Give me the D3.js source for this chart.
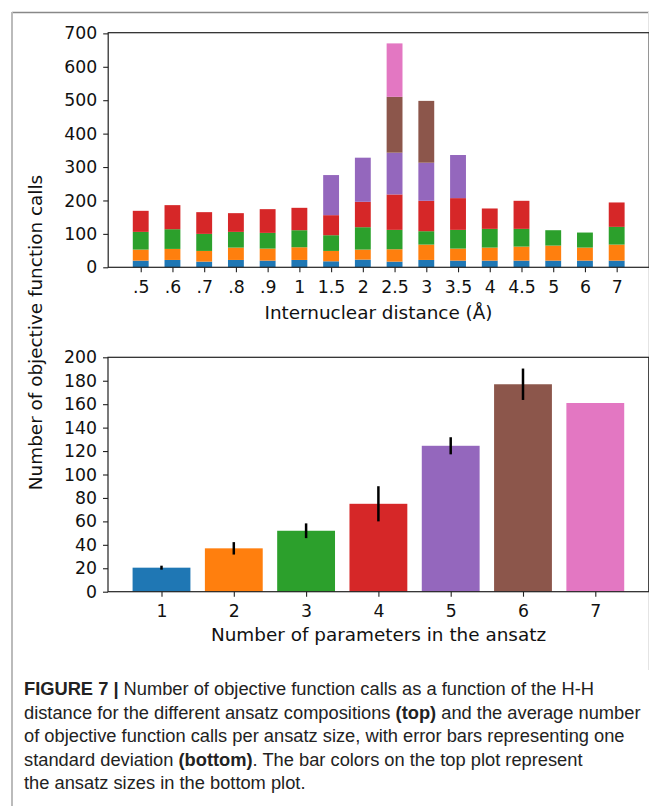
<!DOCTYPE html>
<html>
<head>
<meta charset="utf-8">
<script src="https://cdn.jsdelivr.net/npm/d3@7"></script>
<style>
  body { margin: 0; background: #fff; }
  .axis text { font-family: "DejaVu Sans", sans-serif; font-size: 17.3px; fill: #111; }
  .axis line { stroke: #222; stroke-width: 1.1; }
  .axis path { display: none; }
  .axis-label { font-family: "DejaVu Sans", sans-serif; font-size: 18.4px; fill: #111; }
  .caption { font-family: "Liberation Sans", Arial, sans-serif; font-size: 18.3px; fill: #222; }
</style>
</head>
<body>
<div class="chart-container"></div>
<script>
// top plot: calls per distance, split by ansatz size
const distLabels = ['.5','.6','.7','.8','.9','1','1.5','2','2.5','3','3.5','4','4.5','5','6','7'];
const size1 = [20,22,17,22,20,22,18,23,17,22,20,20,20,20,20,20];
const size2 = [33,33,32,37,36,38,31,30,37,46,36,39,42,45,39,48];
const size3 = [53,59,51,47,47,51,47,67,58,40,56,56,53,46,45,53];
const size4 = [63,72,65,56,71,67,60,76,106,91,95,61,84,0,0,73];
const size5 = [0,0,0,0,0,0,120,132,125,114,129,0,0,0,0,0];
const size6 = [0,0,0,0,0,0,0,0,167,185,0,0,0,0,0,0];
const size7 = [0,0,0,0,0,0,0,0,160,0,0,0,0,0,0,0];
const topTicks = [0,100,200,300,400,500,600,700];

// bottom plot: mean calls per ansatz size, with std dev
const ansatzSizes = [1,2,3,4,5,6,7];
const meanCalls = [20.5,37,52,75,124.5,177,161];
const stdCalls = [1.7,5.3,6.3,15,7.3,13.4,0];
const bottomTicks = [0,20,40,60,80,100,120,140,160,180,200];

const colors = ['#1f77b4','#ff7f0e','#2ca02c','#d62728','#9467bd','#8c564b','#e377c2'];

const captionLines = [
  [{t:'FIGURE 7 |', b:true},{t:' Number of objective function calls as a function of the H-H'}],
  [{t:'distance for the different ansatz compositions '},{t:'(top)', b:true},{t:' and the average number'}],
  [{t:'of objective function calls per ansatz size, with error bars representing one'}],
  [{t:'standard deviation '},{t:'(bottom)', b:true},{t:'. The bar colors on the top plot represent'}],
  [{t:'the ansatz sizes in the bottom plot.'}]
];

const svg_width = 649, svg_height = 806;
const svg = d3.select('.chart-container').append('svg')
  .attr('width', svg_width).attr('height', svg_height);

// figure frame
svg.append('line').attr('x1',12).attr('x2',649).attr('y1',12.5).attr('y2',12.5)
  .attr('stroke','#888').attr('stroke-width',1.5);
svg.append('line').attr('x1',12).attr('x2',12).attr('y1',12).attr('y2',806)
  .attr('stroke','#bbb').attr('stroke-width',2);
svg.append('line').attr('x1',648.5).attr('x2',648.5).attr('y1',12).attr('y2',670)
  .attr('stroke','#e4e4e4').attr('stroke-width',1);

function drawTop(){
  const rows = distLabels.map((d,i)=>({name:d, i:i, s1:size1[i], s2:size2[i], s3:size3[i],
    s4:size4[i], s5:size5[i], s6:size6[i], s7:size7[i]}));
  const keys = ['s1','s2','s3','s4','s5','s6','s7'];
  const stacked = d3.stack().keys(keys)(rows);

  const xScale = d3.scaleLinear().domain([-1.025, distLabels.length - 1 + 1.025]).range([108.2, 649.2]);
  const yScale = d3.scaleLinear().domain([0, 702]).range([267.3, 32.7]);
  const barW = xScale(0.5) - xScale(0);

  const g = svg.append('g');
  g.selectAll('.layer').data(stacked).enter().append('g')
    .attr('fill', (d,k)=>colors[k])
    .selectAll('rect').data(d=>d.filter(s=>s[1]>s[0])).enter().append('rect')
    .attr('x', d=>xScale(d.data.i) - barW/2)
    .attr('width', barW)
    .attr('y', d=>yScale(d[1]))
    .attr('height', d=>yScale(d[0]) - yScale(d[1]));

  const xAxis = d3.axisBottom(xScale).tickValues(d3.range(distLabels.length))
    .tickFormat(i=>distLabels[i]).tickSizeInner(5).tickSizeOuter(0).tickPadding(8);
  g.append('g').attr('class','x axis').attr('transform',`translate(0,${yScale(0)})`).call(xAxis);

  const yAxis = d3.axisLeft(yScale).tickValues(topTicks).tickSizeInner(5).tickSizeOuter(0).tickPadding(6);
  g.append('g').attr('class','y axis').attr('transform',`translate(${xScale.range()[0]},0)`).call(yAxis);

  g.append('rect').attr('x', xScale.range()[0]).attr('y', yScale.range()[1])
    .attr('width', xScale.range()[1]-xScale.range()[0]).attr('height', yScale.range()[0]-yScale.range()[1])
    .attr('fill','none').attr('stroke','#222').attr('stroke-width',1.2);

  g.append('text').attr('class','axis-label').attr('text-anchor','middle')
    .attr('x', 378.5).attr('y', 318.5).text('Internuclear distance (Å)');
}

function drawBottom(){
  const xScale = d3.scaleLinear().domain([0.26, 7.74]).range([108, 648.8]);
  const yScale = d3.scaleLinear().domain([0, 200]).range([591.7, 357.3]);
  const barW = xScale(0.8) - xScale(0);
  const data = ansatzSizes.map((n,i)=>({n:n, mean:meanCalls[i], sd:stdCalls[i]}));

  const g = svg.append('g');
  g.selectAll('.bars').data(data).enter().append('rect')
    .attr('class','bars')
    .attr('x', d=>xScale(d.n) - barW/2)
    .attr('width', barW)
    .attr('y', d=>yScale(d.mean))
    .attr('height', d=>yScale(0) - yScale(d.mean))
    .attr('fill', (d,i)=>colors[i]);

  g.selectAll('.err').data(data.filter(d=>d.sd>0)).enter().append('line')
    .attr('class','err')
    .attr('x1', d=>xScale(d.n)).attr('x2', d=>xScale(d.n))
    .attr('y1', d=>yScale(d.mean - d.sd)).attr('y2', d=>yScale(d.mean + d.sd))
    .attr('stroke','#000').attr('stroke-width',2.5);

  const xAxis = d3.axisBottom(xScale).tickValues(ansatzSizes).tickFormat(d3.format('d'))
    .tickSizeInner(5).tickSizeOuter(0).tickPadding(8);
  g.append('g').attr('class','x axis').attr('transform',`translate(0,${yScale(0)})`).call(xAxis);

  const yAxis = d3.axisLeft(yScale).tickValues(bottomTicks).tickSizeInner(5).tickSizeOuter(0).tickPadding(6);
  g.append('g').attr('class','y axis').attr('transform',`translate(${xScale.range()[0]},0)`).call(yAxis);

  g.append('rect').attr('x', xScale.range()[0]).attr('y', yScale.range()[1])
    .attr('width', xScale.range()[1]-xScale.range()[0]).attr('height', yScale.range()[0]-yScale.range()[1])
    .attr('fill','none').attr('stroke','#222').attr('stroke-width',1.2);

  g.append('text').attr('class','axis-label').attr('text-anchor','middle')
    .attr('x', 378.5).attr('y', 641).text('Number of parameters in the ansatz');
}

drawTop();
drawBottom();

// shared y label
svg.append('text').attr('class','axis-label').attr('text-anchor','middle')
  .attr('transform','translate(41.5,332.5) rotate(-90)')
  .text('Number of objective function calls');

// caption
const cap = svg.append('g');
captionLines.forEach((line,k)=>{
  const t = cap.append('text').attr('class','caption').attr('x',24).attr('y',695 + k*23.5);
  line.forEach(p=>{
    t.append('tspan').text(p.t).style('font-weight', p.b ? 'bold' : 'normal');
  });
});
</script>
</body>
</html>
